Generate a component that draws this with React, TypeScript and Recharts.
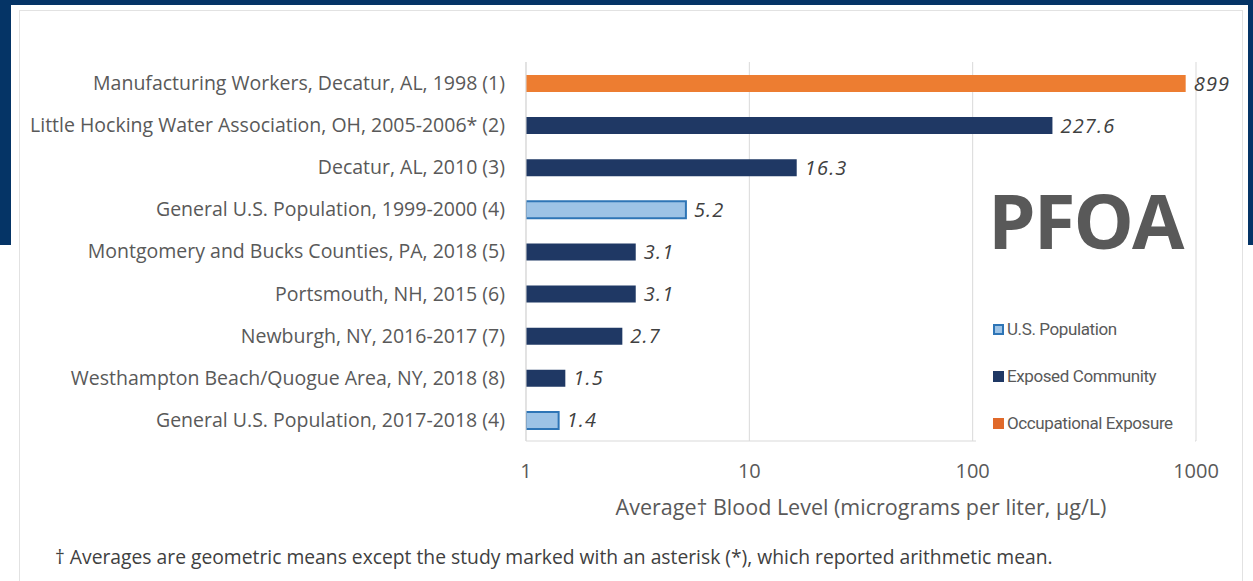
import React from 'react';
import { BarChart, Bar, XAxis, YAxis, CartesianGrid, Cell, LabelList } from 'recharts';

const categories = [
  'Manufacturing Workers, Decatur, AL, 1998 (1)',
  'Little Hocking Water Association, OH, 2005-2006* (2)',
  'Decatur, AL, 2010 (3)',
  'General U.S. Population, 1999-2000 (4)',
  'Montgomery and Bucks Counties, PA, 2018 (5)',
  'Portsmouth, NH, 2015 (6)',
  'Newburgh, NY, 2016-2017 (7)',
  'Westhampton Beach/Quogue Area, NY, 2018 (8)',
  'General U.S. Population, 2017-2018 (4)',
];
const values = [899, 227.6, 16.3, 5.2, 3.1, 3.1, 2.7, 1.5, 1.4];
const groups = ['occ', 'exp', 'exp', 'us', 'exp', 'exp', 'exp', 'exp', 'us'];
const xTicks = [1, 10, 100, 1000];
const legendItems = [
  { key: 'us', label: 'U.S. Population' },
  { key: 'exp', label: 'Exposed Community' },
  { key: 'occ', label: 'Occupational Exposure' },
];

const FILL: Record<string, string> = { us: '#9DC3E6', exp: '#1F3864', occ: '#ED7D31' };
const STROKE: Record<string, string> = { us: '#2E75B6', exp: '#1F3864', occ: '#ED7D31' };
const LEGEND_FILL: Record<string, string> = { us: '#9DC3E6', exp: '#1F3864', occ: '#E0692A' };

const data = categories.map((name, i) => ({ name, value: values[i], group: groups[i] }));

const FONT = '"Open Sans", sans-serif';

export default function App() {
  return (
    <div style={{ position: 'absolute', left: 0, top: 0, width: 1253, height: 581, background: '#fff', overflow: 'hidden', fontFamily: FONT }}>
      <div style={{ position: 'absolute', left: 0, top: 0, width: 1253, height: 5, background: '#053466' }} />
      <div style={{ position: 'absolute', left: 0, top: 0, width: 11, height: 245, background: '#053466' }} />
      <div style={{ position: 'absolute', left: 1248, top: 0, width: 5, height: 245, background: '#053466' }} />
      <div style={{ position: 'absolute', left: 19, top: 10, width: 1222, height: 600, borderTop: '1px solid #e2e2e2', borderLeft: '1px solid #e2e2e2', borderRight: '1px solid #e2e2e2' }} />
      <div style={{ position: 'absolute', left: 0, top: 0 }}>
        <BarChart width={1253} height={581} data={data} layout="vertical" margin={{ top: 62, right: 57, bottom: 110, left: 0 }}>
          <CartesianGrid horizontal={false} vertical={true} stroke="#d9d9d9" />
          <XAxis
            type="number"
            scale="log"
            domain={[1, 1000]}
            ticks={xTicks}
            allowDataOverflow
            height={30}
            axisLine={{ stroke: '#d9d9d9' }}
            tickLine={false}
            tickSize={0}
            tickMargin={23}
            tick={{ fill: '#595959', fontSize: 20, fontFamily: FONT }}
          />
          <YAxis
            type="category"
            dataKey="name"
            width={526}
            axisLine={{ stroke: '#d9d9d9' }}
            tickLine={false}
            tickSize={0}
            tickMargin={21}
            interval={0}
            tick={{ fill: '#595959', fontSize: 19.5, fontFamily: FONT }}
          />
          <Bar dataKey="value" barSize={17} isAnimationActive={false}>
            {data.map((d, i) => (
              <Cell key={i} fill={FILL[d.group]} stroke={STROKE[d.group]} strokeWidth={d.group === 'us' ? 2 : 0} />
            ))}
            <LabelList
              dataKey="value"
              position="right"
              offset={8}
              style={{ fill: '#404040', fontSize: 20, fontStyle: 'italic', fontFamily: FONT, letterSpacing: 1.2 }}
            />
          </Bar>
        </BarChart>
      </div>
      <div style={{ position: 'absolute', left: 988, top: 170, fontSize: 76, fontWeight: 700, color: '#595959', lineHeight: '100px', letterSpacing: -2 }}>PFOA</div>
      <div style={{ position: 'absolute', left: 976, top: 300, width: 219, height: 144, background: '#fff' }}>
        {legendItems.map((it, i) => (
          <div key={it.key} style={{ position: 'absolute', left: 17, top: 18 + i * 47, height: 22, display: 'flex', alignItems: 'center', fontFamily: 'Roboto, sans-serif', fontSize: 17, color: '#595959', letterSpacing: -0.4, whiteSpace: 'nowrap' }}>
            <span style={{ display: 'inline-block', width: it.key === 'us' ? 7 : 11, height: it.key === 'us' ? 7 : 11, background: LEGEND_FILL[it.key], border: it.key === 'us' ? '2px solid #2E75B6' : 'none', marginRight: 3 }} />
            {it.label}
          </div>
        ))}
      </div>
      <div style={{ position: 'absolute', left: 526, width: 670, top: 492, textAlign: 'center', fontSize: 21.5, color: '#595959', lineHeight: '30px', whiteSpace: 'nowrap' }}>
        Average† Blood Level (micrograms per liter, µg/L)
      </div>
      <div style={{ position: 'absolute', left: 55, top: 544, fontSize: 19.3, color: '#404040', lineHeight: '26px', whiteSpace: 'nowrap' }}>
        † Averages are geometric means except the study marked with an asterisk (*), which reported arithmetic mean.
      </div>
    </div>
  );
}
